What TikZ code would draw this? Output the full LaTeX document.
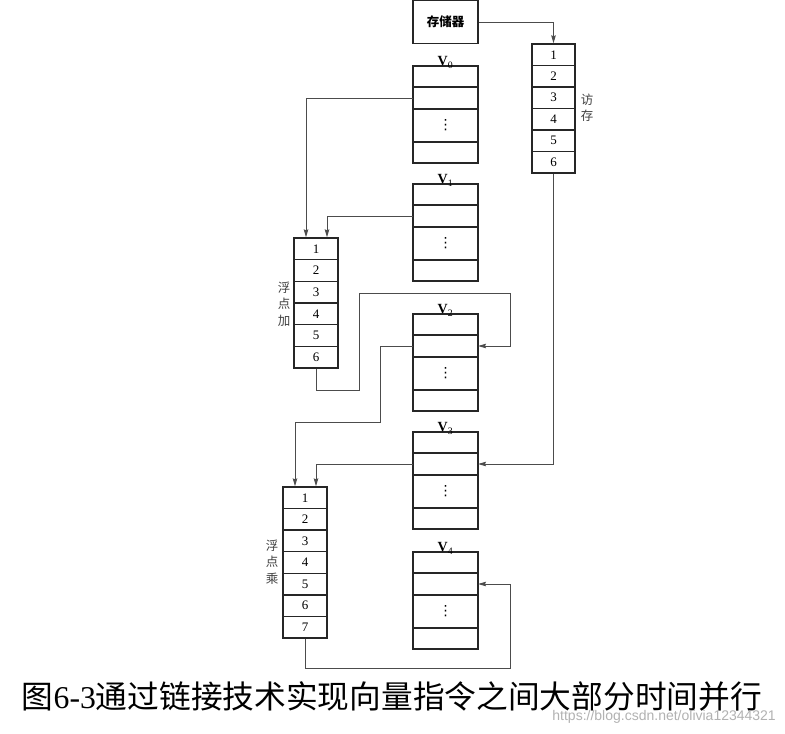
\documentclass[tikz,border=0pt]{standalone}
\usepackage{fontspec}
\setmainfont{Liberation Serif}
\newfontfamily\cjk{Noto Sans CJK SC}
\newfontfamily\wmfont{Liberation Sans}
\newfontfamily\symfont{DejaVu Sans}
\usetikzlibrary{arrows.meta}
\begin{document}
\begin{tikzpicture}[x=1pt,y=-1pt,
  frame/.style={draw=black!85,line width=1.3pt,inner sep=0pt},
  rule/.style={draw=black!85,line width=1.3pt},
  num/.style={inner sep=0pt,font=\fontsize{13}{13}\selectfont},
  conn/.style={draw=black!70,line width=1pt,-{Stealth[length=8pt,width=4.5pt,inset=1pt]}},
  vlab/.style={anchor=south,inner sep=0pt,font=\fontsize{14}{14}\selectfont},
  side/.style={align=center,text=black!75,font=\cjk\fontsize{12.5}{16.5}\selectfont}]
\fill[white] (0,0) rectangle (785,734);
\useasboundingbox (0,0) rectangle (785,734);
% memory
\node[frame,minimum width=65pt,minimum height=43pt,font=\cjk\bfseries\fontsize{12.5}{13}\selectfont] (mem) at (445.5,22) {存储器};
% access pipeline: x 532..575, top 44, 6 rows of 21.5
\node[frame,minimum width=43pt,minimum height=129pt] (acc) at (553.5,108.5) {};
\foreach \i in {1,...,5}
  \draw[rule] (532,{44+21.5*\i}) -- (575,{44+21.5*\i});
\foreach \i in {1,...,6}
  \node[num] (acc\i) at (553.5,{44+21.5*(\i-0.5)}) {\i};
\node[side] (acclab) at (587,108) {访\\存};
% adder: x 294..338, top 238, 6 rows of 21.67
\node[frame,minimum width=44pt,minimum height=130pt] (add) at (316,303) {};
\foreach \i in {1,...,5}
  \draw[rule] (294,{238+21.67*\i}) -- (338,{238+21.67*\i});
\foreach \i in {1,...,6}
  \node[num] (add\i) at (316,{238+21.67*(\i-0.5)}) {\i};
\node[side] (addlab) at (284,304) {浮\\点\\加};
% multiplier: x 283..327, top 487, 7 rows of 21.57
\node[frame,minimum width=44pt,minimum height=151pt] (mul) at (305,562.5) {};
\foreach \i in {1,...,6}
  \draw[rule] (283,{487+21.57*\i}) -- (327,{487+21.57*\i});
\foreach \i in {1,...,7}
  \node[num] (mul\i) at (305,{487+21.57*(\i-0.5)}) {\i};
\node[side] (mullab) at (272,562) {浮\\点\\乘};
% vector registers: x 413..478, rows 21/22/33/21
\foreach \n/\t in {0/66,1/184,2/314,3/432,4/552}{
  \node[frame,minimum width=65pt,minimum height=97pt] (v\n) at (445.5,{\t+48.5}) {};
  \draw[rule] (413,{\t+21}) -- (478,{\t+21});
  \draw[rule] (413,{\t+43}) -- (478,{\t+43});
  \draw[rule] (413,{\t+76}) -- (478,{\t+76});
  \coordinate (v\n w) at (413,{\t+32});
  \coordinate (v\n e) at (478,{\t+32});
  \node[inner sep=0pt,font=\symfont\fontsize{14}{14}\selectfont] (v\n dots) at (445.5,{\t+59.5}) {⋮};
  \node[vlab] (vl\n) at ([yshift=-3pt]v\n.north) {\textbf{V}\textsubscript{\n}};
}
% connectors
\draw[conn] (mem.east) -| (acc.north);
\draw[conn] (v0w) -| ([xshift=-10pt]add.north);
\draw[conn] (v1w) -| ([xshift=11pt]add.north);
\draw[conn] (add.south) |- (359,390) |- (510,293) |- (v2e);
\draw[conn] (v2w) -| (380,422) -| ([xshift=-10pt]mul.north);
\draw[conn] (acc.south) |- (v3e);
\draw[conn] (v3w) -| ([xshift=11pt]mul.north);
\draw[conn] (mul.south) |- (510,668) |- (v4e);
% caption
\node[inner sep=0pt] (cap) at (392,696) {\resizebox{740pt}{!}{\fontsize{31}{31}\selectfont{\cjk 图}6-3{\cjk 通过链接技术实现向量指令之间大部分时间并行}}};
\node[anchor=east,inner sep=0pt,text=black!30,font=\wmfont\fontsize{14}{14}\selectfont] (wm) at (776,717) {https://blog.csdn.net/olivia12344321};
\end{tikzpicture}
\end{document}
